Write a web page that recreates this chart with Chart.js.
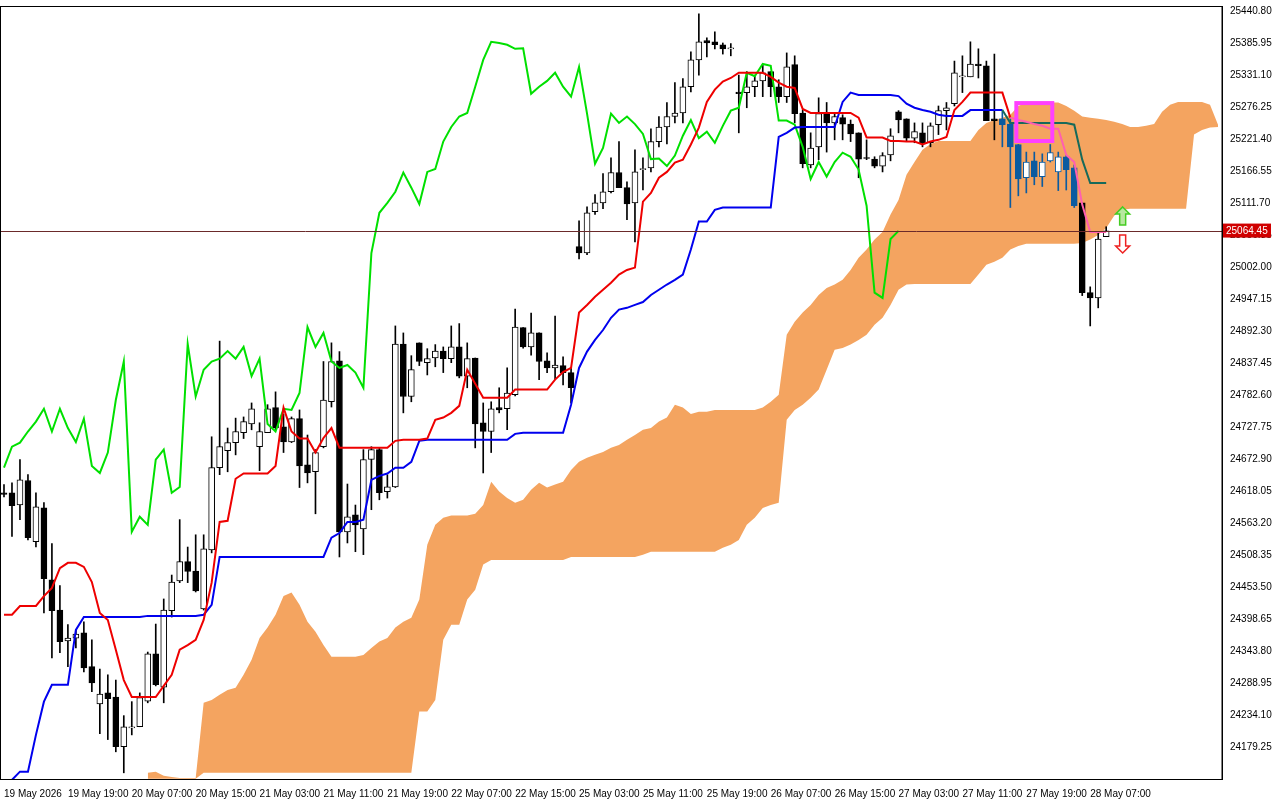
<!DOCTYPE html>
<html><head><meta charset="utf-8">
<script src="https://cdn.jsdelivr.net/npm/chart.js@4/dist/chart.umd.min.js"></script>
<style>html,body{margin:0;padding:0;background:#fff}#wrap{width:1280px;height:800px}</style>
</head><body><div id="wrap"><canvas id="c" width="1280" height="800"></canvas></div>
<script>
const timeLabels=["19 May 2026","19 May 19:00","20 May 07:00","20 May 15:00","21 May 03:00","21 May 11:00","21 May 19:00","22 May 07:00","22 May 15:00","25 May 03:00","25 May 11:00","25 May 19:00","26 May 07:00","26 May 15:00","27 May 03:00","27 May 11:00","27 May 19:00","28 May 07:00"];
const opens=[24615,24615,24594,24636,24531,24589,24466,24414,24361,24366,24375,24317,24253,24272,24265,24180,24212,24214,24258,24339,24282,24413,24464,24497,24481,24416,24517,24658,24687,24701,24718,24733,24694,24718,24761,24728,24702,24742,24663,24651,24694,24771,24841,24548,24577,24553,24672,24689,24617,24625,24870,24780,24872,24838,24846,24858,24845,24865,24815,24846,24735,24720,24761,24759,24783,24898,24865,24889,24841,24829,24833,24821,25037,25026,25097,25112,25131,25164,25138,25112,25169,25172,25217,25242,25260,25266,25311,25357,25390,25388,25383,25376,25302,25301,25311,25321,25337,25311,25294,25349,25266,25177,25208,25265,25249,25258,25247,25232,25189,25187,25175,25194,25268,25256,25223,25232,25215,25246,25270,25282,25328,25328,25350,25347,25256,25256,25247,25212,25155,25184,25157,25184,25165,25191,25172,25112,24958,24949,25054];
const highs=[24629,24632,24672,24646,24615,24598,24528,24456,24389,24380,24394,24363,24313,24303,24294,24233,24257,24272,24342,24390,24433,24474,24569,24522,24543,24543,24711,24875,24726,24743,24745,24769,24735,24766,24788,24750,24745,24757,24714,24689,24840,24872,24857,24630,24594,24689,24694,24692,24646,24901,24889,24850,24872,24862,24869,24865,24901,24905,24872,24846,24769,24771,24795,24829,24930,24898,24923,24889,24855,24918,24848,24829,25081,25105,25126,25162,25189,25217,25148,25203,25189,25239,25260,25284,25318,25325,25371,25436,25395,25405,25386,25385,25331,25337,25331,25349,25337,25323,25369,25364,25271,25232,25292,25284,25265,25263,25254,25232,25220,25191,25198,25239,25270,25256,25249,25249,25249,25278,25284,25355,25364,25388,25376,25355,25367,25271,25256,25212,25199,25199,25196,25212,25199,25194,25177,25112,24968,25061,25071];
const lows=[24608,24540,24569,24534,24522,24409,24332,24341,24317,24349,24308,24274,24202,24192,24171,24135,24200,24214,24255,24284,24255,24402,24461,24461,24445,24414,24512,24646,24651,24680,24708,24723,24653,24718,24723,24684,24701,24624,24632,24579,24692,24762,24505,24529,24514,24509,24586,24603,24606,24624,24752,24771,24833,24817,24831,24821,24838,24812,24795,24692,24649,24684,24752,24723,24781,24863,24851,24809,24821,24809,24800,24769,25016,25023,25092,25102,25129,25138,25083,25045,25134,25165,25208,25213,25249,25249,25302,25331,25362,25376,25367,25364,25232,25275,25294,25294,25294,25284,25284,25249,25172,25172,25186,25199,25220,25220,25217,25155,25186,25172,25165,25184,25232,25218,25215,25208,25208,25229,25237,25278,25301,25328,25326,25253,25220,25208,25104,25124,25129,25143,25140,25182,25133,25134,25104,24953,24901,24932,25054];
const closes=[24612,24593,24637,24538,24591,24468,24413,24360,24366,24373,24315,24289,24270,24262,24180,24214,24213,24264,24339,24286,24414,24462,24497,24480,24447,24519,24658,24694,24701,24720,24737,24759,24720,24759,24726,24702,24742,24661,24649,24684,24774,24840,24548,24574,24560,24672,24689,24615,24625,24870,24780,24826,24840,24845,24858,24845,24865,24815,24845,24733,24720,24759,24757,24786,24899,24865,24889,24840,24829,24834,24821,24795,25026,25095,25112,25131,25164,25138,25110,25165,25170,25217,25242,25260,25266,25311,25357,25388,25386,25383,25376,25377,25299,25311,25321,25335,25311,25294,25345,25265,25179,25206,25265,25249,25260,25247,25230,25187,25188,25175,25193,25227,25254,25223,25234,25215,25244,25270,25275,25335,25329,25350,25347,25253,25253,25246,25208,25153,25182,25157,25182,25198,25191,25169,25107,24958,24949,25050,25064];
const tenkan=[24406,24406,24421,24421,24421,24438,24452,24486,24495,24495,24488,24462,24409,24397,24346,24294,24265,24265,24265,24265,24284,24303,24346,24354,24363,24397,24461,24565,24567,24639,24648,24648,24648,24648,24661,24761,24720,24708,24708,24684,24709,24726,24692,24692,24692,24692,24692,24692,24692,24704,24706,24706,24706,24708,24740,24744,24752,24764,24826,24802,24778,24778,24778,24778,24792,24792,24792,24792,24792,24809,24822,24829,24924,24937,24951,24963,24975,24989,24997,25001,25114,25129,25155,25165,25181,25186,25212,25241,25285,25306,25320,25326,25335,25335,25335,25335,25328,25318,25311,25309,25273,25266,25266,25266,25266,25266,25266,25258,25224,25224,25224,25218,25218,25217,25217,25212,25217,25220,25225,25271,25285,25301,25301,25301,25301,25301,25258];
const tenkanTail=[25258,25254,25251,25247,25244,25239,25239,25194,25182,25109,25062,25062,25062];
const kijun=[24115,24123,24137,24137,24200,24257,24286,24286,24286,24380,24402,24402,24402,24402,24402,24402,24402,24402,24404,24404,24404,24404,24404,24404,24404,24406,24423,24505,24505,24505,24505,24505,24505,24505,24505,24505,24505,24505,24505,24505,24505,24538,24546,24565,24565,24569,24637,24644,24648,24658,24658,24668,24704,24706,24706,24706,24706,24706,24706,24706,24706,24706,24706,24706,24716,24718,24718,24718,24718,24718,24718,24766,24829,24857,24877,24894,24915,24929,24932,24937,24942,24954,24963,24972,24980,24989,25032,25080,25080,25100,25104,25104,25104,25104,25104,25104,25104,25225,25232,25241,25242,25242,25242,25242,25242,25285,25301,25297,25297,25297,25297,25297,25295,25282,25275,25271,25268,25263,25261,25261,25261,25271,25271,25271,25271,25271];
const kijunTail=[25271,25249,25249,25249,25249,25249,25249,25249,25249,25246,25186,25146,25146,25146];
const spanTop=[null,null,null,null,null,null,null,null,null,null,null,null,null,null,null,null,null,null,24135,24137,24130,24128,24126,24126,24126,24255,24260,24269,24277,24281,24303,24329,24366,24384,24406,24438,24444,24423,24394,24377,24354,24334,24334,24334,24334,24337,24349,24360,24366,24384,24394,24401,24432,24526,24560,24572,24576,24576,24576,24579,24594,24634,24617,24606,24598,24603,24620,24632,24624,24629,24634,24654,24668,24675,24680,24685,24692,24697,24706,24714,24723,24726,24737,24744,24766,24761,24750,24754,24754,24757,24757,24757,24757,24757,24757,24761,24771,24783,24886,24908,24924,24937,24954,24966,24972,24980,24997,25018,25032,25049,25062,25092,25117,25160,25182,25203,25213,25218,25218,25218,25218,25218,25237,25249,25254,25258,25263,25278,25284,25284,25284,25284,25284,25278,25270,25260,25258,25256,25254,25251,25247,25242,25242,25244,25247,25268,25280,25285,25285,25285,25285,25280,25246];
const spanBottom=[null,null,null,null,null,null,null,null,null,null,null,null,null,null,null,null,null,null,24125,24125,24125,24125,24125,24125,24125,24135,24135,24135,24135,24135,24135,24135,24135,24135,24135,24135,24135,24135,24135,24135,24135,24135,24135,24135,24135,24135,24135,24135,24135,24135,24135,24135,24240,24240,24260,24363,24389,24389,24432,24449,24492,24500,24500,24500,24500,24500,24500,24500,24500,24500,24500,24505,24505,24505,24505,24505,24505,24505,24505,24505,24509,24514,24514,24514,24514,24514,24514,24514,24514,24514,24521,24526,24534,24560,24572,24589,24594,24598,24740,24757,24766,24778,24792,24826,24860,24863,24869,24877,24886,24903,24915,24937,24963,24972,24973,24973,24973,24973,24973,24973,24973,24973,24989,25006,25011,25018,25032,25038,25042,25042,25042,25042,25042,25042,25042,25043,25049,25057,25069,25090,25100,25102,25102,25102,25102,25102,25102,25102,25102,25229,25237,25241,25242];
const yTicks=[25440.80,25385.95,25331.10,25276.25,25221.40,25166.55,25111.70,25056.85,25002.00,24947.15,24892.30,24837.45,24782.60,24727.75,24672.90,24618.05,24563.20,24508.35,24453.50,24398.65,24343.80,24288.95,24234.10,24179.25];
const lastPrice=25064.45;
const markBox={from:127,to:131,hi:25283,lo:25218};
const arrowUp={index:140,top:25105,bottom:25074};
const arrowDown={index:140,top:25057,bottom:25026};

const N=153, tailStart=126, kTailStart=125, inCloudFrom=125, inCloudTo=135;
const labels=[];for(let i=0;i<N;i++)labels.push(i%8===0&&timeLabels[i/8]?timeLabels[i/8]:'');
const pad=(a,s)=>{const r=new Array(N).fill(null);a.forEach((v,k)=>r[s+k]=v);return r;};
const chikou=pad(closes.slice(26),0);
const BLUE='#0b5ba0';
const bull=opens.map((o,i)=>closes[i]>=o);
const inCloud=opens.map((o,i)=>i>=inCloudFrom&&i<inCloudTo);
const edge=inCloud.map(c=>c?BLUE:'#000');
const fillC=opens.map((o,i)=>bull[i]?'#fff':(inCloud[i]?BLUE:'#000'));

const overlay={id:'overlay',afterDatasetsDraw(ch){
  const {ctx,chartArea:a,scales:{x,y}}=ch;
  ctx.save();
  const py=Math.round(y.getPixelForValue(lastPrice))+0.5;
  ctx.strokeStyle='#6b2a2a';ctx.lineWidth=1;ctx.beginPath();ctx.moveTo(a.left,py);ctx.lineTo(a.right,py);ctx.stroke();
  const bx1=x.getPixelForValue(markBox.from)-2,bx2=x.getPixelForValue(markBox.to)+2;
  const by1=y.getPixelForValue(markBox.hi),by2=y.getPixelForValue(markBox.lo);
  ctx.strokeStyle='#ff40ff';ctx.lineWidth=4;ctx.strokeRect(bx1,by1,bx2-bx1,by2-by1);
  function arrow(d,up,stroke,fill){
    const cx=x.getPixelForValue(d.index)+0.5,t=y.getPixelForValue(d.top),b=y.getPixelForValue(d.bottom);
    ctx.beginPath();
    if(up){ctx.moveTo(cx,t);ctx.lineTo(cx+7,t+7);ctx.lineTo(cx+3,t+7);ctx.lineTo(cx+3,b);ctx.lineTo(cx-3,b);ctx.lineTo(cx-3,t+7);ctx.lineTo(cx-7,t+7);}
    else{ctx.moveTo(cx,b);ctx.lineTo(cx+7,b-7);ctx.lineTo(cx+3,b-7);ctx.lineTo(cx+3,t);ctx.lineTo(cx-3,t);ctx.lineTo(cx-3,b-7);ctx.lineTo(cx-7,b-7);}
    ctx.closePath();ctx.fillStyle=fill;ctx.fill();ctx.lineWidth=1.5;ctx.strokeStyle=stroke;ctx.stroke();
  }
  arrow(arrowUp,true,'#44cc22','#b8e8a0');
  arrow(arrowDown,false,'#ee2222','#fff');
  ctx.restore();
},afterDraw(ch){
  const {ctx,chartArea:a,scales:{y}}=ch;
  ctx.save();
  ctx.strokeStyle='#000';ctx.lineWidth=1;ctx.strokeRect(a.left+0.5,a.top+0.5,a.right-a.left-0.5,a.bottom-a.top);
  const py=y.getPixelForValue(lastPrice);
  ctx.fillStyle='#d00000';ctx.fillRect(a.right+1,py-7,48,14);
  ctx.fillStyle='#fff';ctx.font='10px "Liberation Sans"';ctx.textBaseline='middle';ctx.fillText(lastPrice.toFixed(2),a.right+4,py+0.5);
  ctx.restore();
}};

new Chart(document.getElementById('c'),{
  data:{labels,datasets:[
    {type:'line',data:pad(spanTop,0),borderWidth:0,pointRadius:0,fill:'+1',backgroundColor:'#f4a460',order:10},
    {type:'line',data:pad(spanBottom,0),borderWidth:0,pointRadius:0,fill:false,order:10},
    {type:'bar',data:opens.map((o,i)=>[lows[i],highs[i]]),barThickness:1,backgroundColor:edge,grouped:false,order:6},
    {type:'bar',data:opens.map((o,i)=>[o,closes[i]]),barThickness:6,backgroundColor:fillC,borderColor:edge,borderWidth:1,borderSkipped:false,minBarLength:1,grouped:false,order:5},
    {type:'line',data:pad(chikou.slice(0,N),0),borderColor:'#00e000',borderWidth:2,pointRadius:0,tension:0,order:3},
    {type:'line',data:pad(kijun,0),borderColor:'#0000ee',borderWidth:2,pointRadius:0,order:2},
    {type:'line',data:pad(tenkan,0),borderColor:'#ee0000',borderWidth:2,pointRadius:0,order:1},
    {type:'line',data:pad(kijunTail,kTailStart),borderColor:'#176a5a',borderWidth:2,pointRadius:0,order:1},
    {type:'line',data:pad(tenkanTail,tailStart),borderColor:'#ff5fb0',borderWidth:2,pointRadius:0,order:0}
  ]},
  options:{responsive:false,animation:false,events:[],
    layout:{padding:{top:0,left:0,right:0,bottom:0}},
    plugins:{legend:{display:false},tooltip:{enabled:false}},
    scales:{
      x:{type:'category',offset:true,grid:{display:false,drawTicks:true},border:{color:'#000'},
        ticks:{autoSkip:false,maxRotation:0,align:'start',padding:1,color:'#000',font:{family:'Liberation Sans',size:10},
          callback:(v,i)=>labels[i]},
        afterFit(s){s.height=21;}},
      y:{position:'right',min:24124.4,max:25449.4,border:{color:'#000'},grid:{display:false},
        afterBuildTicks(s){s.ticks=yTicks.map(v=>({value:v}));},
        ticks:{color:'#000',padding:0,font:{family:'Liberation Sans',size:10},callback:v=>Number(v).toFixed(2)},
        afterFit(s){s.width=58;}}
    }},
  plugins:[overlay]
});
</script></body></html>
